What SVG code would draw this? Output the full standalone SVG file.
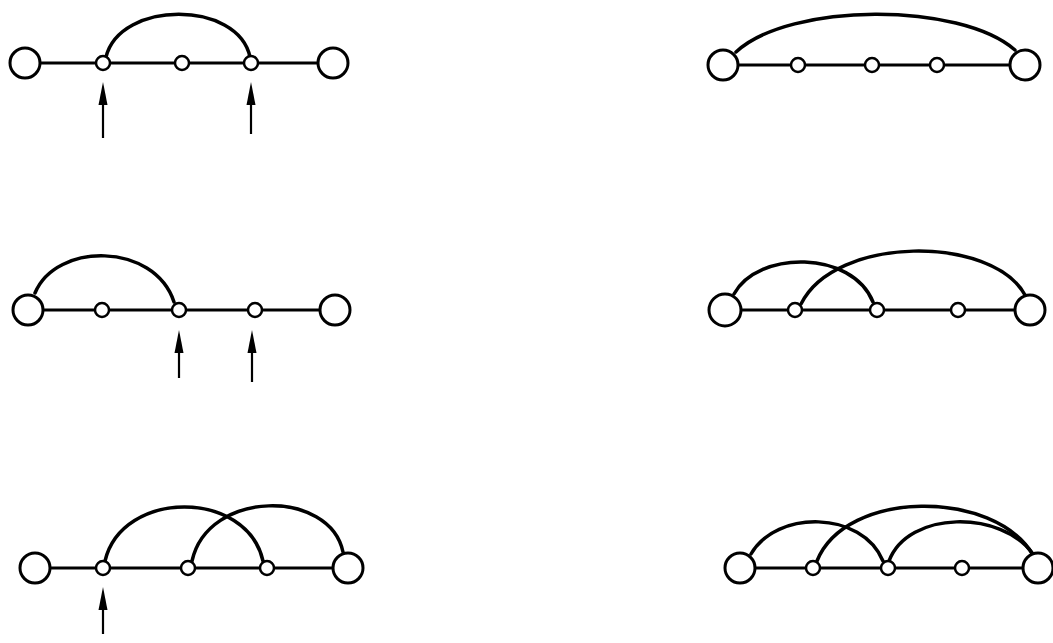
<svg xmlns="http://www.w3.org/2000/svg" width="1053" height="643" viewBox="0 0 1053 643">
<style>
.bg{fill:#fff}
.big{fill:#fff;stroke:#000;stroke-width:3}
.sm{fill:#fff;stroke:#000;stroke-width:2.5}
.ln{fill:none;stroke:#000;stroke-width:3}
.arc{fill:none;stroke:#000;stroke-width:3.5;stroke-linecap:round}
.ar{fill:none;stroke:#000;stroke-width:2.2}
.hd{fill:#000}
</style>
<defs>
<path id="ah" d="M0 0 L4.5 23 L-4.5 23 Z"/>
</defs>
<rect class="bg" width="1053" height="643"/>
<g id="connectors">
<!-- diagram 1 -->
<line class="ln" x1="25" y1="63" x2="333" y2="63"/>
<path class="arc" d="M106 57 C120 0 238 0 250 57"/>
<!-- diagram 2 -->
<line class="ln" x1="723" y1="65" x2="1025" y2="65"/>
<path class="arc" d="M736 52 C790 2 960 2 1015 50"/>
<!-- diagram 3 -->
<line class="ln" x1="28" y1="310" x2="335" y2="310"/>
<path class="arc" d="M35 293 C56 242 154 242 174 302"/>
<!-- diagram 4 -->
<line class="ln" x1="725" y1="310" x2="1030" y2="310"/>
<path class="arc" d="M734 294 C758 250 852 250 873 302"/>
<path class="arc" d="M801 304 C835 235 992 235 1025 295"/>
<!-- diagram 5 -->
<line class="ln" x1="35" y1="568" x2="348" y2="568"/>
<path class="arc" d="M105 561 C122 489 247 489 263 561"/>
<path class="arc" d="M192 561 C208 489 330 489 343 552"/>
<!-- diagram 6 -->
<line class="ln" x1="740" y1="568" x2="1038" y2="568"/>
<path class="arc" d="M751 554 C776 510 862 510 883 561"/>
<path class="arc" d="M817 561 C846 489 994 489 1033 555"/>
<path class="arc" d="M889 561 C908 510 1002 510 1033 554"/>
<!-- arrows -->
<g id="arrow1"><line class="ar" x1="103" y1="138" x2="103" y2="100"/><use href="#ah" class="hd" x="103" y="82"/></g>
<g id="arrow2"><line class="ar" x1="251" y1="134" x2="251" y2="100"/><use href="#ah" class="hd" x="251" y="82"/></g>
<g id="arrow3"><line class="ar" x1="179" y1="378" x2="179" y2="348"/><use href="#ah" class="hd" x="179" y="330"/></g>
<g id="arrow4"><line class="ar" x1="252" y1="382" x2="252" y2="348"/><use href="#ah" class="hd" x="252" y="330"/></g>
<g id="arrow5"><line class="ar" x1="103" y1="634" x2="103" y2="605"/><use href="#ah" class="hd" x="103" y="587"/></g>
</g>
<g id="d1-n1"><circle class="big" cx="25" cy="63" r="15"/></g>
<g id="d1-n2"><circle class="sm" cx="103" cy="63" r="7"/></g>
<g id="d1-n3"><circle class="sm" cx="182" cy="63" r="7"/></g>
<g id="d1-n4"><circle class="sm" cx="251" cy="63" r="7"/></g>
<g id="d1-n5"><circle class="big" cx="333" cy="63" r="15"/></g>
<g id="d2-n1"><circle class="big" cx="723" cy="65" r="15"/></g>
<g id="d2-n2"><circle class="sm" cx="798" cy="65" r="7"/></g>
<g id="d2-n3"><circle class="sm" cx="872" cy="65" r="7"/></g>
<g id="d2-n4"><circle class="sm" cx="937" cy="65" r="7"/></g>
<g id="d2-n5"><circle class="big" cx="1025" cy="65" r="15"/></g>
<g id="d3-n1"><circle class="big" cx="28" cy="310" r="15"/></g>
<g id="d3-n2"><circle class="sm" cx="102" cy="310" r="7"/></g>
<g id="d3-n3"><circle class="sm" cx="179" cy="310" r="7"/></g>
<g id="d3-n4"><circle class="sm" cx="255" cy="310" r="7"/></g>
<g id="d3-n5"><circle class="big" cx="335" cy="310" r="15"/></g>
<g id="d4-n1"><circle class="big" cx="725" cy="310" r="16"/></g>
<g id="d4-n2"><circle class="sm" cx="795" cy="310" r="7"/></g>
<g id="d4-n3"><circle class="sm" cx="877" cy="310" r="7"/></g>
<g id="d4-n4"><circle class="sm" cx="958" cy="310" r="7"/></g>
<g id="d4-n5"><circle class="big" cx="1030" cy="310" r="15"/></g>
<g id="d5-n1"><circle class="big" cx="35" cy="568" r="15"/></g>
<g id="d5-n2"><circle class="sm" cx="103" cy="568" r="7"/></g>
<g id="d5-n3"><circle class="sm" cx="188" cy="568" r="7"/></g>
<g id="d5-n4"><circle class="sm" cx="267" cy="568" r="7"/></g>
<g id="d5-n5"><circle class="big" cx="348" cy="568" r="15"/></g>
<g id="d6-n1"><circle class="big" cx="740" cy="568" r="15"/></g>
<g id="d6-n2"><circle class="sm" cx="813" cy="568" r="7"/></g>
<g id="d6-n3"><circle class="sm" cx="888" cy="568" r="7"/></g>
<g id="d6-n4"><circle class="sm" cx="962" cy="568" r="7"/></g>
<g id="d6-n5"><circle class="big" cx="1038" cy="568" r="15"/></g>
</svg>
